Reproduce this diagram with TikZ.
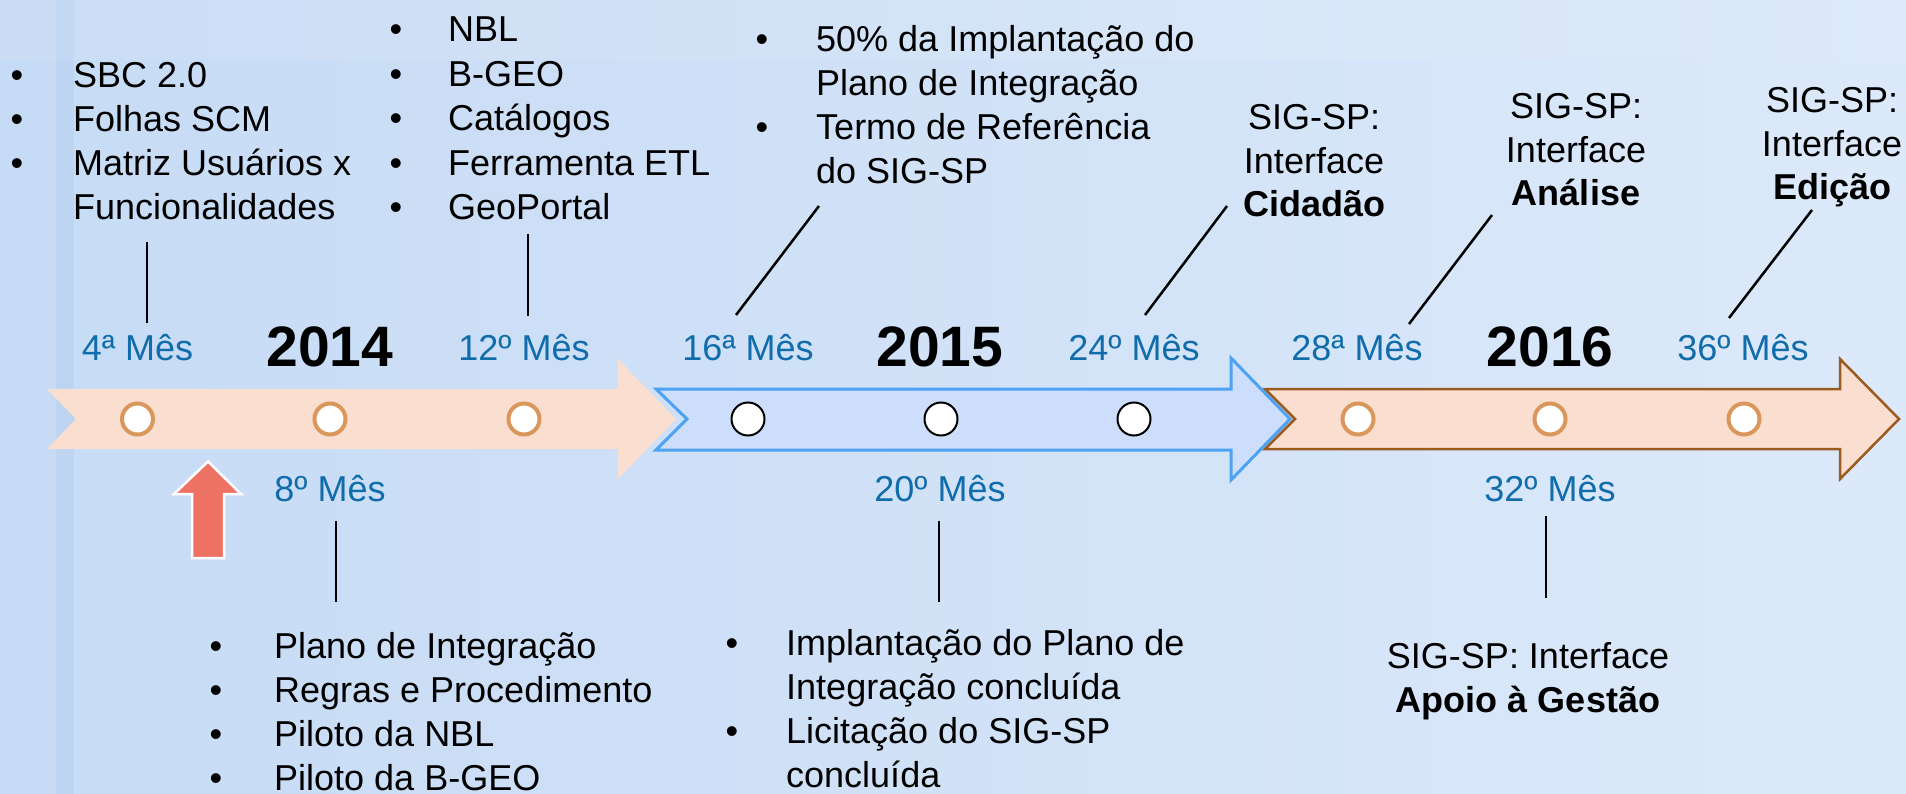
\documentclass[tikz,border=0pt]{standalone}
\usepackage{fontspec}
\setmainfont{Liberation Sans}
\definecolor{bgL}{HTML}{C6DBF5}
\definecolor{bgR}{HTML}{DCE9FA}
\definecolor{stripe}{HTML}{B7D0F0}
\definecolor{peach}{HTML}{FADFD0}
\definecolor{peachring}{HTML}{DA975B}
\definecolor{bluefill}{HTML}{CCDEFB}
\definecolor{blueedge}{HTML}{4DA2F2}
\definecolor{brownedge}{HTML}{9A5A20}
\definecolor{mesblue}{HTML}{106CAB}
\definecolor{redarrow}{HTML}{EE7263}
\newcommand\myitem[5]{%
  \node[txt,anchor=base] (#1b) at (#2,#4) {•};
  \node[txt,anchor=base west] (#1) at (#3,#4) {#5};}
\newcommand\myline[4]{%
  \node[txt,anchor=base west] (#1) at (#2,#3) {#4};}
\begin{document}
\begin{tikzpicture}[x=1pt,y=1pt,
  txt/.style={font=\fontsize{36}{44}\selectfont, inner sep=0pt, text=black},
  mes/.style={font=\fontsize{36}{44}\selectfont, inner sep=0pt, text=mesblue, anchor=base},
  yr/.style={font=\fontsize{57}{60}\selectfont\bfseries, inner sep=0pt, anchor=base},
  grp/.style={font=\fontsize{36}{43.5}\selectfont, inner sep=0pt, align=center, anchor=base},
  pring/.style={circle, draw=peachring, line width=4pt, fill=white, minimum size=31pt, inner sep=0pt},
  bring/.style={circle, draw=black, line width=2pt, fill=white, minimum size=33pt, inner sep=0pt},
  conn/.style={line width=2.5pt, black},
  arrA/.style={fill=peach},
  arrB/.style={fill=bluefill, draw=blueedge, line width=3pt, line join=miter},
  arrC/.style={fill=peach, draw=brownedge, line width=2.5pt, line join=miter},
]
\useasboundingbox (0,0) rectangle (1906,-794);
\clip (0,0) rectangle (1906,-794);
% background
\shade[left color=bgL, right color=bgR] (0,0) rectangle (1906,-794);
\fill[stripe, opacity=0.5] (56,0) rectangle (74,-794);
\fill[white, opacity=0.08] (0,0) rectangle (1906,-60);

% arrows
\path[arrA] (47,-389) -- (618,-389) -- (618,-359) -- (676,-419) -- (618,-479) -- (618,-449) -- (47,-449) -- (76,-419) -- cycle;
\path[arrC] (1265,-389) -- (1840,-389) -- (1840,-359) -- (1899,-419) -- (1840,-479) -- (1840,-449) -- (1265,-449) -- (1295,-419) -- cycle;
\path[arrB] (656,-389) -- (1231,-389) -- (1231,-358) -- (1290,-419) -- (1231,-480) -- (1231,-450) -- (656,-450) -- (687,-419) -- cycle;

% milestone circles
\node[pring] (c4)  at (137.5,-419) {};
\node[pring] (c8)  at (330,-419) {};
\node[pring] (c12) at (524,-419) {};
\node[bring] (c16) at (748,-419) {};
\node[bring] (c20) at (941,-419) {};
\node[bring] (c24) at (1134,-419) {};
\node[pring] (c28) at (1358,-419) {};
\node[pring] (c32) at (1550,-419) {};
\node[pring] (c36) at (1744,-419) {};

% labels above
\node[mes] (m4)  at (137.5,-360) {4ª Mês};
\node[yr]  (y14) at (330,-366.5) {2014};
\node[mes] (m12) at (524,-360) {12º Mês};
\node[mes] (m16) at (748,-360) {16ª Mês};
\node[yr]  (y15) at (940,-366.5) {2015};
\node[mes] (m24) at (1134,-360) {24º Mês};
\node[mes] (m28) at (1357,-360) {28ª Mês};
\node[yr]  (y16) at (1550,-366.5) {2016};
\node[mes] (m36) at (1743,-360) {36º Mês};
% labels below
\node[mes] (m8)  at (330,-501) {8º Mês};
\node[mes] (m20) at (940,-501) {20º Mês};
\node[mes] (m32) at (1550,-501) {32º Mês};

% red up arrow
\path[fill=redarrow, draw=white, line width=2.5pt, line join=miter]
  (208,-461.5) -- (241,-494) -- (224,-494) -- (224,-558) -- (192,-558) -- (192,-494) -- (174,-494) -- cycle;

% top-left list (4th month)
\myitem{a1}{17}{73}{-88}{SBC 2.0}
\myitem{a2}{17}{73}{-132}{Folhas SCM}
\myitem{a3}{17}{73}{-176}{Matriz Usuários x}
\myline{a4}{73}{-220}{Funcionalidades}

% 12th month list
\myitem{b1}{396}{448}{-42}{NBL}
\myitem{b2}{396}{448}{-86.5}{B-GEO}
\myitem{b3}{396}{448}{-131}{Catálogos}
\myitem{b4}{396}{448}{-175.5}{Ferramenta ETL}
\myitem{b5}{396}{448}{-220}{GeoPortal}

% 16th month list
\myitem{d1}{762}{816}{-52}{50\% da Implantação do}
\myline{d2}{816}{-96}{Plano de Integração}
\myitem{d3}{762}{816}{-140}{Termo de Referência}
\myline{d4}{816}{-184}{do SIG-SP}

% 8th month list
\myitem{e1}{216}{274}{-658}{Plano de Integração}
\myitem{e2}{216}{274}{-702}{Regras e Procedimento}
\myitem{e3}{216}{274}{-746}{Piloto da NBL}
\myitem{e4}{216}{274}{-790}{Piloto da B-GEO}

% 20th month list
\myitem{f1}{732}{786}{-655}{Implantação do Plano de}
\myline{f2}{786}{-699}{Integração concluída}
\myitem{f3}{732}{786}{-743}{Licitação do SIG-SP}
\myline{f4}{786}{-787}{concluída}

% SIG-SP groups (anchor = baseline of last line)
\node[grp] (g24) at (1314,-217) {SIG-SP:\\Interface\\\textbf{Cidadão}};
\node[grp] (g28) at (1576,-206) {SIG-SP:\\Interface\\\textbf{Análise}};
\node[grp] (g36) at (1832,-200) {SIG-SP:\\Interface\\\textbf{Edição}};
\node[grp] (g32) at (1528,-712) {SIG-SP: Interface\\\textbf{Apoio à Gestão}};

% connector end points
\coordinate (p4a) at (147,-242);   \coordinate (p4b) at (147,-323);
\coordinate (p12a) at (528,-234);  \coordinate (p12b) at (528,-316);
\coordinate (p8a) at (336,-521);   \coordinate (p8b) at (336,-602);
\coordinate (p20a) at (939,-521);  \coordinate (p20b) at (939,-602);
\coordinate (p32a) at (1546,-516); \coordinate (p32b) at (1546,-598);
\coordinate (p16a) at (819,-206);  \coordinate (p16b) at (736,-315);
\coordinate (p24a) at (1227,-206); \coordinate (p24b) at (1145,-315);
\coordinate (p28a) at (1492,-215); \coordinate (p28b) at (1409,-324);
\coordinate (p36a) at (1812,-210); \coordinate (p36b) at (1729,-318);
\foreach \n in {4,12,8,20,32,16,24,28,36} {\draw[conn] (p\n a) -- (p\n b);}
\end{tikzpicture}
\end{document}
